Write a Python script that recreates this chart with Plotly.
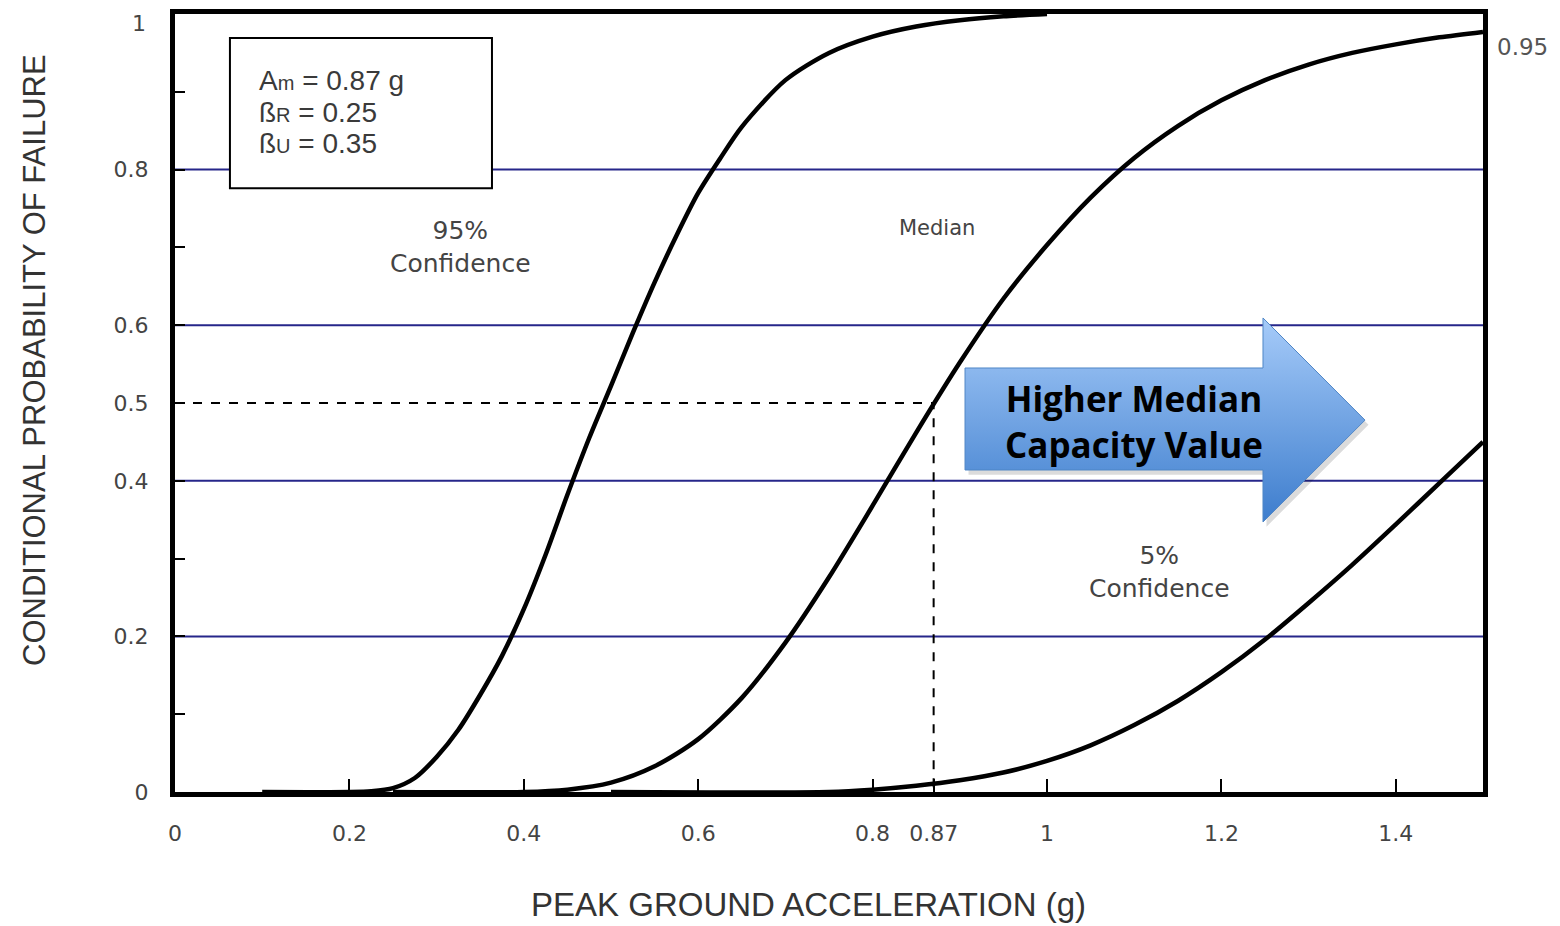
import plotly.graph_objects as go

# ---- data ----
pga_95 = [0.10, 0.20, 0.225, 0.25, 0.275, 0.30, 0.325, 0.35, 0.375, 0.40, 0.425, 0.45,
          0.475, 0.50, 0.525, 0.55, 0.575, 0.60, 0.625, 0.65, 0.70, 0.75, 0.80, 0.85,
          0.90, 0.95, 1.00]
pf_95 = [0.0, 0.0, 0.001, 0.005, 0.018, 0.045, 0.08, 0.125, 0.175, 0.235, 0.305, 0.382,
         0.455, 0.522, 0.590, 0.655, 0.715, 0.770, 0.814, 0.855, 0.915, 0.950, 0.971, 0.984,
         0.992, 0.997, 1.0]

pga_med = [0.25, 0.40, 0.45, 0.50, 0.55, 0.60, 0.65, 0.70, 0.75, 0.80, 0.85, 0.90, 0.95,
           1.00, 1.05, 1.10, 1.15, 1.20, 1.25, 1.30, 1.35, 1.40, 1.45, 1.50]
pf_med = [0.0, 0.0, 0.003, 0.012, 0.033, 0.068, 0.121, 0.192, 0.276, 0.368, 0.462, 0.552,
          0.634, 0.703, 0.764, 0.815, 0.856, 0.889, 0.915, 0.935, 0.950, 0.961, 0.970, 0.977]

pga_05 = [0.50, 0.75, 0.80, 0.85, 0.90, 0.95, 1.00, 1.05, 1.10, 1.15, 1.20, 1.25, 1.30,
          1.35, 1.40, 1.45, 1.50]
pf_05 = [0.0, 0.0, 0.003, 0.008, 0.015, 0.025, 0.040, 0.060, 0.086, 0.117, 0.154, 0.196,
         0.243, 0.292, 0.344, 0.397, 0.450]

grid_levels = [0.2, 0.4, 0.6, 0.8]
median_capacity = 0.87
median_prob = 0.5

x_tickvals = [0, 0.2, 0.4, 0.6, 0.8, 0.87, 1, 1.2, 1.4]
x_ticktext = ["0", "0.2", "0.4", "0.6", "0.8", "0.87", "1", "1.2", "1.4"]
y_tickvals = [0, 0.1, 0.2, 0.3, 0.4, 0.5, 0.6, 0.7, 0.8, 0.9, 1]
y_ticktext = ["0", "", "0.2", "", "0.4", "0.5", "0.6", "", "0.8", "", ""]
y_top_value = 1
y_top_label = "1"

# arrow decoration outline (data coords)
arrow_x = [0.906, 1.2477, 1.2477, 1.3647, 1.2477, 1.2477, 0.906, 0.906]
arrow_y = [0.545, 0.545, 0.6093, 0.478, 0.347, 0.4139, 0.4139, 0.545]

SANS = "Liberation Sans, Arial, sans-serif"
WIDE = "DejaVu Sans, Verdana, sans-serif"

fig = go.Figure()

for lvl in grid_levels:
    fig.add_shape(type="line", xref="x", yref="y", x0=0, x1=1.5, y0=lvl, y1=lvl,
                  line=dict(color="#26268a", width=2), layer="below")

# dashed median reference
fig.add_trace(go.Scatter(x=[0, median_capacity, median_capacity], y=[median_prob, median_prob, 0],
                         mode="lines", line=dict(color="black", width=2, dash="dash"),
                         hoverinfo="skip", showlegend=False))

for xs, ys in [(pga_95, pf_95), (pga_med, pf_med), (pga_05, pf_05)]:
    fig.add_trace(go.Scatter(x=xs, y=ys, mode="lines",
                             line=dict(color="black", width=4.5, shape="spline", smoothing=0.8),
                             showlegend=False))

# arrow shadow
fig.add_trace(go.Scatter(x=[v + 0.004 for v in arrow_x], y=[v - 0.006 for v in arrow_y],
                         mode="lines", fill="toself", fillcolor="rgba(0,0,0,0.14)",
                         line=dict(width=0, color="rgba(0,0,0,0)"), hoverinfo="skip",
                         showlegend=False))
fig.add_trace(go.Scatter(x=arrow_x, y=arrow_y, mode="lines", fill="toself",
                         fillgradient=dict(type="vertical",
                                           colorscale=[[0, "#3d7dcd"], [1, "#a6cbf9"]]),
                         line=dict(width=1, color="#4f86c6"), hoverinfo="skip",
                         showlegend=False))

# parameter box
fig.add_shape(type="rect", xref="x", yref="y", x0=0.063, x1=0.3635, y0=0.776, y1=0.969,
              line=dict(color="black", width=2), fillcolor="white", layer="above")

annotations = [
    dict(x=0.094, y=0.914, xref="x", yref="y", xanchor="left",
         text="A<span style='font-size:20px'>m</span> = 0.87 g",
         font=dict(family=SANS, size=28, color="#3a3a3a")),
    dict(x=0.094, y=0.874, xref="x", yref="y", xanchor="left",
         text="ß<span style='font-size:20px'>R</span> = 0.25",
         font=dict(family=SANS, size=28, color="#3a3a3a")),
    dict(x=0.094, y=0.834, xref="x", yref="y", xanchor="left",
         text="ß<span style='font-size:20px'>U</span> = 0.35",
         font=dict(family=SANS, size=28, color="#3a3a3a")),
    dict(x=0.327, y=0.700, xref="x", yref="y", text="95%<br>Confidence",
         font=dict(family=WIDE, size=25, color="#444")),
    dict(x=0.874, y=0.725, xref="x", yref="y", text="Median",
         font=dict(family=WIDE, size=21, color="#444")),
    dict(x=1.129, y=0.2834, xref="x", yref="y", text="5%<br>Confidence",
         font=dict(family=WIDE, size=25, color="#444")),
    dict(x=1.5, y=0.957, xref="x", yref="y", xanchor="left", xshift=12, text="0.95",
         font=dict(family=WIDE, size=23, color="#555")),
    dict(x=0, y=y_top_value, xref="paper", yref="y", xanchor="right", yanchor="middle",
         xshift=-27, yshift=-9, text=y_top_label,
         font=dict(family=WIDE, size=22, color="#444")),
    dict(x=1.1, y=0.476, xref="x", yref="y", text="<b>Higher Median<br>Capacity Value</b>",
         font=dict(family="Open Sans, Lato, sans-serif", size=35, color="black")),
    dict(x=-0.108, y=0.555, xref="paper", yref="paper", textangle=-90,
         xanchor="center", yanchor="middle",
         text="CONDITIONAL PROBABILITY OF FAILURE",
         font=dict(family=SANS, size=31, color="#333")),
    dict(x=0.4847, y=-0.145, xref="paper", yref="paper", xanchor="center", yanchor="middle",
         text="PEAK GROUND ACCELERATION (g)",
         font=dict(family=SANS, size=33, color="#333")),
]
for a in annotations:
    a.setdefault("showarrow", False)
fig.update_layout(annotations=annotations)

fig.update_layout(
    width=1560, height=926,
    margin=dict(l=167, r=85, t=6, b=142, autoexpand=False),
    paper_bgcolor="white", plot_bgcolor="white",
    showlegend=False,
    xaxis=dict(range=[0, 1.5], tickvals=x_tickvals, ticktext=x_ticktext, automargin=False,
               ticks="inside", ticklen=13, tickwidth=1.5, tickcolor="black",
               showgrid=False, zeroline=False, showline=True, mirror=True,
               linecolor="black", linewidth=5, ticklabelstandoff=18,
               ticklabeloverflow="allow",
               tickfont=dict(family=WIDE, size=22, color="#444")),
    yaxis=dict(range=[0, 1], tickvals=y_tickvals, ticktext=y_ticktext, automargin=False,
               ticks="inside", ticklen=10, tickwidth=1.5, tickcolor="black",
               showgrid=False, zeroline=False, showline=True, mirror=True,
               linecolor="black", linewidth=5, ticklabelstandoff=17,
               ticklabeloverflow="allow",
               tickfont=dict(family=WIDE, size=22, color="#444")),
)

fig.write_html("out.html")
